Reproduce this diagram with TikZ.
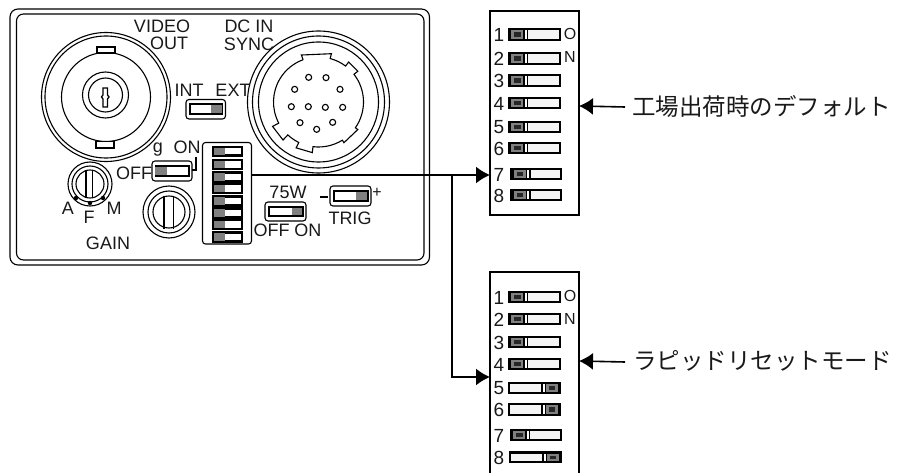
\documentclass[tikz,border=0pt]{standalone}
\usepackage{xcolor}
\usepackage{fontspec}
\usepackage{tikz}
\usetikzlibrary{arrows.meta}
\setmainfont{Liberation Sans}
\newfontfamily\cjkFont{Noto Sans CJK JP}
\colorlet{strokeColor}{black}
\colorlet{textColor}{black!90}
\colorlet{knobColor}{black!50}
\colorlet{bodyColor}{black!4}
\tikzset{
  thinStroke/.style={color=strokeColor, line width=1.1pt},
  panelLabel/.style={color=textColor, inner sep=0pt, font=\fontsize{18}{18}\selectfont},
  digitLabel/.style={color=textColor, inner sep=0pt, font=\fontsize{19}{19}\selectfont},
  smallLabel/.style={color=textColor, inner sep=0pt, font=\fontsize{16}{16}\selectfont},
  noteLabel/.style={color=textColor, inner sep=0pt, anchor=west, font=\cjkFont\fontsize{23.5}{24}\selectfont},
  sheetBox/.style={draw=strokeColor, line width=1.6pt, inner sep=0pt, outer sep=0pt, minimum width=89pt, minimum height=204pt},
  leader/.style={color=strokeColor, line width=1.6pt},
  leaderTip/.style={-{Latex[length=14pt, width=17pt]}},
}
\newcommand{\slideSwitch}[6]{%
  \draw[thinStroke, rounded corners=3pt, fill=white] (#1, #2) rectangle (#3, #4);
  \draw[color=strokeColor, line width=2pt, fill=white] (#1 + 3.5, #2 + 5) rectangle (#3 - 3.5, #4 - 5);
  \fill[color=knobColor] (#5, #2 + 6) rectangle (#6, #4 - 6);
}
\newcommand{\sheetSwitch}[5]{%
  \draw[color=strokeColor, line width=2.2pt, fill=bodyColor] (#1, #3) rectangle (#2, #4);
  \ifnum#5=0
    \fill[color=strokeColor] (#1, #3) rectangle (#1 + 19, #4);
    \fill[color=white] (#1 + 15.5, #3 + 1) rectangle (#1 + 17.5, #4 - 1);
    \fill[color=knobColor] (#1 + 2, #3 + 1.2) rectangle (#1 + 14, #4 - 1.2);
    \fill[color=black!85] (#1 + 5, #3 + 3.2) rectangle (#1 + 11.5, #4 - 3.2);
  \else
    \fill[color=strokeColor] (#2, #3) rectangle (#2 - 19, #4);
    \fill[color=white] (#2 - 15.5, #3 + 1) rectangle (#2 - 17.5, #4 - 1);
    \fill[color=knobColor] (#2 - 2, #3 + 1.2) rectangle (#2 - 14, #4 - 1.2);
    \fill[color=black!85] (#2 - 5, #3 + 3.2) rectangle (#2 - 11.5, #4 - 3.2);
  \fi
}
\begin{document}
\begin{tikzpicture}[x=1pt, y=-1pt]
    \useasboundingbox (0, 0) rectangle (897, 473);
    \draw[thinStroke, rounded corners=8pt] (10, 9) rectangle (429.5, 265);
    \draw[thinStroke, rounded corners=7pt] (16.5, 14) rectangle (424, 260);
    \begin{scope}[shift={(106, 97)}]
      \foreach \ringRadius in {64.5, 61, 44.5} {
        \draw[thinStroke] (0, 0) circle[radius=\ringRadius];
      }
      \draw[thinStroke, fill=white] (-9, -50) rectangle (9, -44);
      \draw[thinStroke, fill=white] (-10, 44.5) rectangle (8, 51);
      \foreach \ringRadius in {23, 17} {
        \draw[thinStroke] (-0.5, -2) circle[radius=\ringRadius];
      }
      \draw[color=strokeColor, line width=1.3pt] (-3, -9) -- (1.5, -9) -- (1.5, -2) -- (3, 0) -- (1.5, 2) -- (1.5, 10) -- (-3, 10) -- (-3, 2) -- (-4.5, 0) -- (-3, -2) -- cycle;
    \end{scope}
    \begin{scope}[shift={(318.5, 102)}]
      \foreach \ringRadius in {71, 66, 60} {
        \draw[thinStroke] (0, 0) circle[radius=\ringRadius];
      }
      \draw[thinStroke, y=1pt]
        (110:45) -- (110:50) -- (75:50) -- (75:45) arc[start angle=75, end angle=53, radius=45]
        -- (53:50) -- (38:50) -- (38:45) arc[start angle=38, end angle=-35, radius=45]
        -- (-35:48) -- (-58:48) -- (-58:45) arc[start angle=-58, end angle=-97, radius=45]
        -- (-97:51) -- (-116:51) -- (-116:45) arc[start angle=-116, end angle=-133, radius=45]
        -- (-133:52) -- (-152:52) -- (-152:45) arc[start angle=-152, end angle=-250, radius=45];
    \end{scope}
    \foreach \pinX/\pinY in {356/232, 408/233, 314/268, 450/268, 304/320, 355/320, 406/322, 458/322, 330/368, 380/388, 428/367} {
      \draw[thinStroke] (190 + \pinX / 3, \pinY / 3) circle[radius=3];
    }
    \slideSwitch{186}{99.5}{225.5}{119}{211}{222}
    \slideSwitch{152}{161}{192}{181}{155}{167}
    \slideSwitch{265}{202}{306}{221}{292}{302}
    \slideSwitch{330}{186}{371}{206}{356}{367}
    \draw[thinStroke] (196, 157) -- (196, 170) -- (192, 170);
    \draw[thinStroke] (320, 197) -- (328, 197);
    \foreach \ringRadius in {22, 18, 14} {
      \draw[thinStroke] (90, 184) circle[radius=\ringRadius];
    }
    \draw[color=strokeColor, line width=1.3pt] (86, 170) -- (86, 198) (92.5, 170) -- (92.5, 198);
    \foreach \dotX/\dotY in {76/198, 90/203, 103/198} {
      \fill[color=strokeColor] (\dotX, \dotY) circle[radius=2.2];
    }
    \foreach \ringRadius in {26, 21, 16} {
      \draw[thinStroke] (169, 212) circle[radius=\ringRadius];
    }
    \draw[color=strokeColor, line width=1.3pt] (164, 196) -- (164, 229) (173.5, 196) -- (173.5, 229);
    \draw[thinStroke, rounded corners=3pt] (202.5, 142.5) rectangle (251.5, 244);
    \foreach \rowTop/\rowBottom in {147/155.5, 160/169, 172.5/181.5, 184/193, 196.5/205.5, 208.5/217.5, 220/229, 232.5/241.5} {
      \draw[color=strokeColor, line width=2.2pt, fill=white] (213, \rowTop) rectangle (242, \rowBottom);
      \fill[color=knobColor] (214, \rowTop + 0.8) rectangle (225, \rowBottom - 0.8);
    }
    \node[panelLabel] (videoLabel) at (162, 26) {VIDEO};
    \node[panelLabel] (outLabel) at (169, 43) {OUT};
    \node[panelLabel] (dcLabel) at (249, 26) {DC IN};
    \node[panelLabel] (syncLabel) at (249, 44) {SYNC};
    \node[panelLabel] (intLabel) at (189, 90) {INT};
    \node[panelLabel] (extLabel) at (233, 90) {EXT};
    \node[panelLabel] (gLabel) at (158, 150) {g};
    \node[panelLabel] (onLabel) at (187, 147) {ON};
    \node[panelLabel] (offLabel) at (134, 173) {OFF};
    \node[panelLabel] (aLabel) at (68, 208) {A};
    \node[panelLabel] (fLabel) at (89, 217) {F};
    \node[panelLabel] (mLabel) at (114, 208) {M};
    \node[panelLabel] (gainLabel) at (108, 243) {GAIN};
    \node[panelLabel] (ohmLabel) at (288, 192) {75W};
    \node[panelLabel] (offOnLabel) at (287.5, 230) {OFF ON};
    \node[panelLabel] (trigLabel) at (350, 218) {TRIG};
    \node[smallLabel] (plusLabel) at (377, 193) {+};
    \node[sheetBox] (defaultBox) at (534.5, 113) {};
    \node[sheetBox] (rapidBox) at (534.5, 374) {};
    \foreach \rowTop/\rowBottom/\rowLeft/\rowRight/\rowNum/\rowSide [count=\rowId] in {29/40/509/560/1/0, 53/64/509/560/2/0, 75/86/509/560/3/0, 98/108/509/560/4/0, 122/132/509/560/5/0, 143/153/509/560/6/0, 169/179/511.5/561/7/0, 190/200/511.5/561/8/0, 292/302/509/560/1/0, 314/324/509/560/2/0, 337/347/509/560/3/0, 359/369/509/560/4/0, 383/393/509/560/5/1, 404/415/509/560/6/1, 430/440/511/561/7/0, 452.5/462/510/561/8/1} {
      \sheetSwitch{\rowLeft}{\rowRight}{\rowTop}{\rowBottom}{\rowSide}
      \node[digitLabel] (sheetDigit\rowId) at (499, {(\rowTop + \rowBottom) / 2 + 0.5}) {\rowNum};
    }
    \node[smallLabel] (defaultO) at (570, 34) {O};
    \node[smallLabel] (defaultN) at (570, 56.5) {N};
    \node[smallLabel] (rapidO) at (570, 296) {O};
    \node[smallLabel] (rapidN) at (570, 318.5) {N};
    \node[noteLabel] (defaultNote) at (632, 106) {工場出荷時のデフォルト};
    \node[noteLabel] (rapidNote) at (633, 361) {ラピッドリセットモード};
    \coordinate (dipOut) at (251, 175);
    \coordinate (branchTop) at (452, 175);
    \coordinate (branchBottom) at (452, 377);
    \draw[leader, leaderTip] (dipOut) -- (defaultBox.west |- dipOut);
    \draw[leader, leaderTip] (branchTop) -- (branchBottom) -- (rapidBox.west |- branchBottom);
    \draw[leader, leaderTip] (defaultNote.west) ++(-7, 1) -- (defaultBox.east |- defaultNote.west);
    \draw[leader, leaderTip] (rapidNote.west) ++(-8, 1) -- (rapidBox.east |- rapidNote.west);
  \end{tikzpicture}
\end{document}
